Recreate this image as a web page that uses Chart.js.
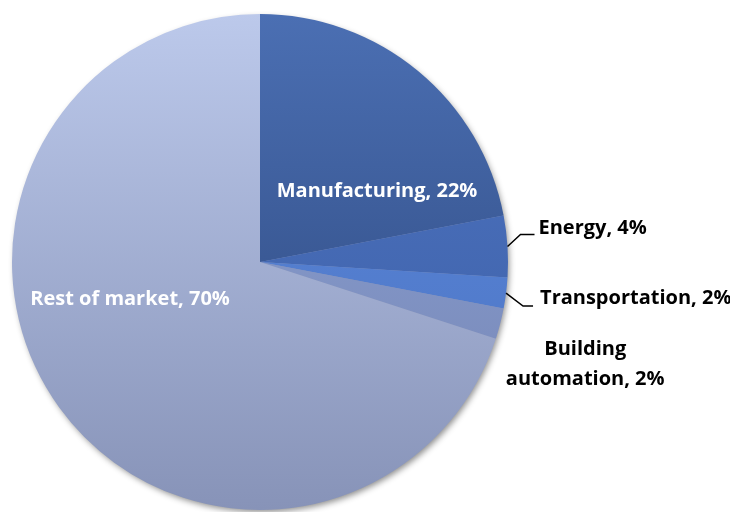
<!DOCTYPE html>
<html>
<head>
<meta charset="utf-8">
<script src="https://cdn.jsdelivr.net/npm/chart.js@4.4.1/dist/chart.umd.min.js"></script>
<style>
  html, body { margin: 0; padding: 0; background: #fff; }
  #wrap { width: 730px; height: 512px; position: relative; }
</style>
</head>
<body>
<div id="wrap"><canvas id="pieChart"></canvas></div>
<script>
const labels = ['Manufacturing', 'Energy', 'Transportation', 'Building automation', 'Rest of market'];
const shares = [22, 4, 2, 2, 70];
const topColors = ['#4b6fb3', '#4f76c4', '#5d8ade', '#91a7d8', '#bcc9eb'];
const bottomColors = ['#2a4478', '#3a5ca2', '#4a72c0', '#7282b2', '#8793b8'];

const FONT = '"Open Sans", "Liberation Sans", sans-serif';

function sliceColor(context) {
  const chart = context.chart;
  const area = chart.chartArea;
  if (!area) return topColors[context.dataIndex];
  const g = chart.ctx.createLinearGradient(0, area.top, 0, area.bottom);
  g.addColorStop(0, topColors[context.dataIndex]);
  g.addColorStop(1, bottomColors[context.dataIndex]);
  return g;
}

const pieShadow = {
  id: 'pieShadow',
  beforeDatasetsDraw(chart) {
    const arc = chart.getDatasetMeta(0).data[0];
    if (!arc) return;
    const ctx = chart.ctx;
    ctx.save();
    ctx.shadowColor = 'rgba(0,0,0,0.45)';
    ctx.shadowBlur = 6;
    ctx.shadowOffsetX = 2;
    ctx.shadowOffsetY = 3;
    ctx.fillStyle = '#8793b8';
    ctx.beginPath();
    ctx.arc(arc.x, arc.y, arc.outerRadius - 1, 0, Math.PI * 2);
    ctx.fill();
    ctx.restore();
  }
};

const sliceLabels = {
  id: 'sliceLabels',
  afterDatasetsDraw(chart) {
    const ctx = chart.ctx;
    const arcs = chart.getDatasetMeta(0).data;
    ctx.save();
    ctx.font = 'bold 20px ' + FONT;
    ctx.textBaseline = 'middle';
    arcs.forEach((arc, i) => {
      const text = labels[i] + ', ' + shares[i] + '%';
      const mid = (arc.startAngle + arc.endAngle) / 2;
      const r = arc.outerRadius;
      const cx = arc.x, cy = arc.y;
      const ex = cx + Math.cos(mid) * r, ey = cy + Math.sin(mid) * r;
      if (i === 0) {
        ctx.fillStyle = '#fff';
        ctx.textAlign = 'center';
        const p = arc.tooltipPosition();
        ctx.fillText(text, p.x + 38, p.y + 25);
      } else if (i === 4) {
        ctx.fillStyle = '#fff';
        ctx.textAlign = 'center';
        ctx.fillText(text, cx - r * 0.524, cy + r * 0.15);
      } else if (i === 3) {
        ctx.fillStyle = '#000';
        ctx.textAlign = 'center';
        ctx.fillText('Building', ex + 85, ey + 26);
        ctx.fillText('automation, ' + shares[i] + '%', ex + 85, ey + 56);
      } else {
        ctx.fillStyle = '#000';
        ctx.strokeStyle = '#000';
        ctx.lineWidth = 1.5;
        ctx.textAlign = 'left';
        const ky = i === 1 ? ey - 12 : ey + 13;
        ctx.beginPath();
        ctx.moveTo(ex, ey);
        ctx.lineTo(ex + (i === 1 ? 13 : 17), ky);
        ctx.lineTo(ex + 27, ky);
        ctx.stroke();
        ctx.fillText(text, ex + (i === 1 ? 31 : 34), ky - (i === 1 ? 6 : 8));
      }
    });
    ctx.restore();
  }
};

new Chart(document.getElementById('pieChart'), {
  type: 'pie',
  data: {
    labels: labels,
    datasets: [{
      data: shares,
      backgroundColor: sliceColor,
      borderWidth: 0
    }]
  },
  options: {
    responsive: true,
    maintainAspectRatio: false,
    animation: false,
    layout: {
      padding: { left: 12, right: 222, top: 14, bottom: 2 }
    },
    plugins: {
      legend: { display: false },
      tooltip: { enabled: false }
    }
  },
  plugins: [pieShadow, sliceLabels]
});
</script>
</body>
</html>
